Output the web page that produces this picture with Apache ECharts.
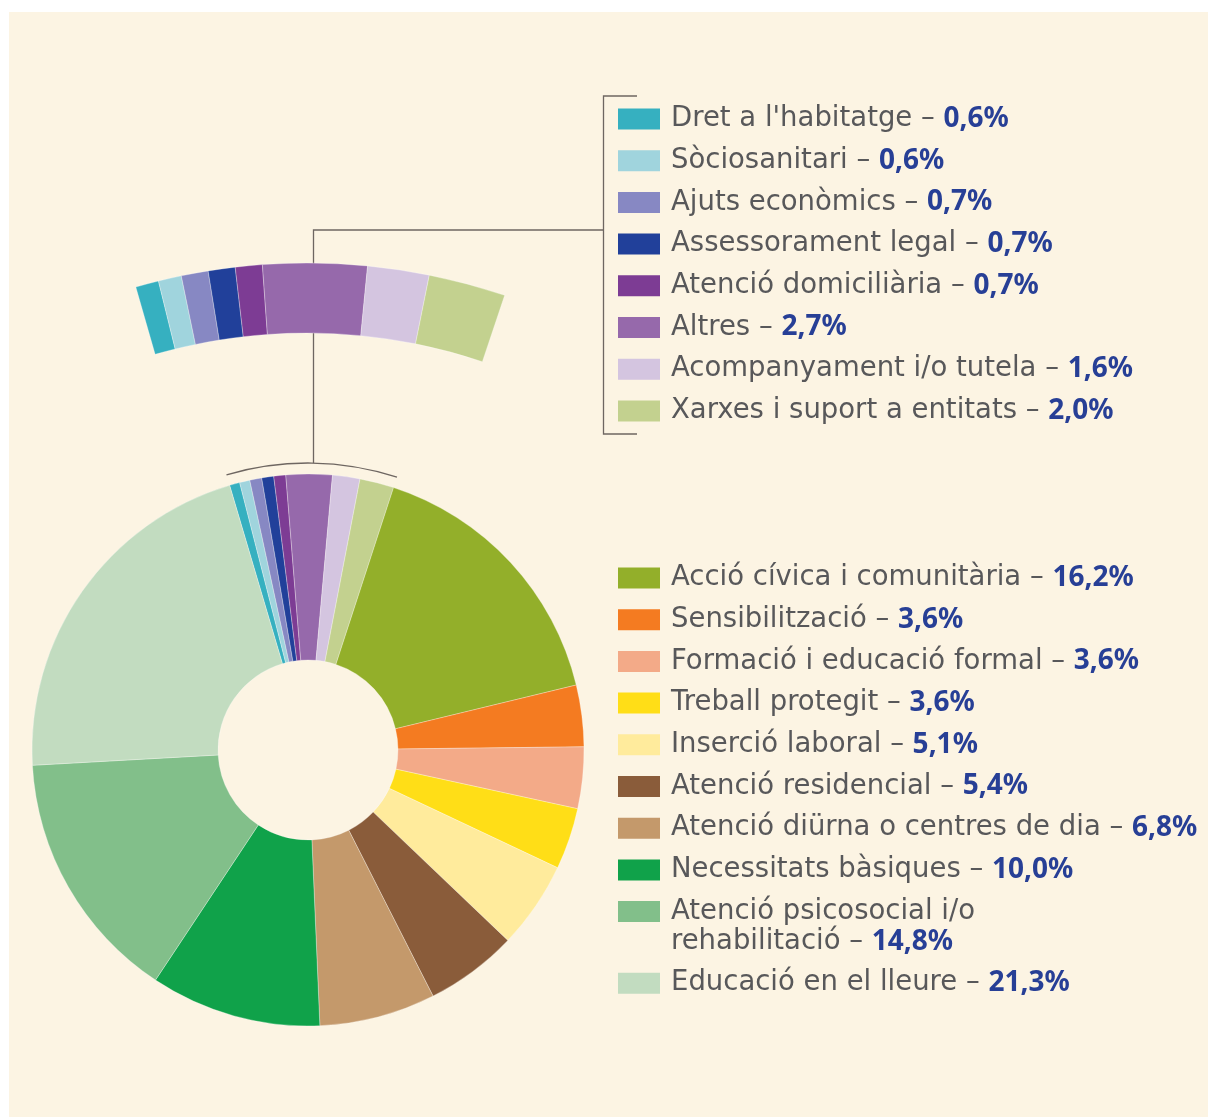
<!DOCTYPE html>
<html>
<head>
<meta charset="utf-8">
<script src="https://cdn.jsdelivr.net/npm/echarts@6/dist/echarts.min.js"></script>
<style>
  html, body { margin: 0; padding: 0; background: #ffffff; }
  #chart { width: 1208px; height: 1117px; }
</style>
</head>
<body>
<div id="chart"></div>
<script>
// ---- DATA (clockwise order in the donut) ----
const categories = [
  "Dret a l'habitatge",
  "Sòciosanitari",
  "Ajuts econòmics",
  "Assessorament legal",
  "Atenció domiciliària",
  "Altres",
  "Acompanyament i/o tutela",
  "Xarxes i suport a entitats",
  "Acció cívica i comunitària",
  "Sensibilització",
  "Formació i educació formal",
  "Treball protegit",
  "Inserció laboral",
  "Atenció residencial",
  "Atenció diürna o centres de dia",
  "Necessitats bàsiques",
  "Atenció psicosocial i/o\nrehabilitació",
  "Educació en el lleure"
];
const values = [0.6, 0.6, 0.7, 0.7, 0.7, 2.7, 1.6, 2.0, 16.2, 3.6, 3.6, 3.6, 5.1, 5.4, 6.8, 10.0, 14.8, 21.3];
const colors = [
  "#36b0c0", "#a0d4dd", "#8788c3", "#21409a", "#7d3c94", "#9669ab", "#d4c5e0", "#c3d18f",
  "#93af2a", "#f47b21", "#f3aa88", "#ffde17", "#ffeb9c", "#8a5c3a", "#c4996b", "#10a24a",
  "#82bf8a", "#c2dcc0"
];
const smallCount = 8; // first items shown magnified in the upper arc

// ---- LAYOUT ----
const CREAM = "#fcf4e3";
const TEXT_GREY = "#58585a";
const VALUE_BLUE = "#273f96";
const LINE = "#6e6661";
const NAME_FONT = "'DejaVu Sans', 'Noto Sans', sans-serif";
const VALUE_FONT = "'Noto Sans', 'Open Sans', sans-serif";

const mainCenter = [308, 750];
const mainRadius = [90, 276];
const mainStart = 106.5;
const zoomCenter = [307, 884];
const zoomRadius = [551, 621];
const zoomStart = 106;

const fmt = v => v.toFixed(1).replace('.', ',') + '%';
const total = values.reduce((a, b) => a + b, 0);
const smallSum = values.slice(0, smallCount).reduce((a, b) => a + b, 0);

const mainData = categories.map((c, i) => ({ name: c, value: values[i], itemStyle: { color: colors[i] } }));
const zoomData = categories.slice(0, smallCount).map((c, i) => ({ name: c, value: values[i], itemStyle: { color: colors[i] } }));
zoomData.push({ name: '', value: total - smallSum, itemStyle: { color: 'rgba(0,0,0,0)', borderWidth: 0 } });

// legend rows
const graphics = [];
graphics.push({ type: 'rect', shape: { x: 9, y: 12, width: 1199, height: 1105 }, style: { fill: CREAM }, silent: true });

function legendRow(i, yCenter) {
  graphics.push({
    type: 'rect',
    shape: { x: 618, y: yCenter - 10.5, width: 42, height: 21 },
    style: { fill: colors[i] }, silent: true
  });
  graphics.push({
    type: 'text',
    x: 671, y: yCenter - 15,
    style: {
      text: '{n|' + categories[i] + ' – }{v|' + fmt(values[i]) + '}',
      verticalAlign: 'top',
      align: 'left',
      rich: {
        n: { fontFamily: NAME_FONT, fontSize: 27.5, fill: TEXT_GREY, lineHeight: 30 },
        v: { fontFamily: VALUE_FONT, fontSize: 28, fontWeight: 'bold', fill: VALUE_BLUE, lineHeight: 30 }
      }
    },
    silent: true
  });
}
const rowStep = 41.7;
let y = 119;
for (let i = 0; i < smallCount; i++) { legendRow(i, y); y += rowStep; }
y = 578;
for (let i = smallCount; i < categories.length; i++) {
  legendRow(i, y);
  const lines = categories[i].split('\n').length;
  y += rowStep + (lines - 1) * 30;
}

// connectors
const deg = d => d * Math.PI / 180;
const arcStart = -mainStart;
const arcEnd = -(mainStart - smallSum / total * 360);
graphics.push({
  type: 'arc',
  shape: { cx: mainCenter[0], cy: mainCenter[1], r: 287, startAngle: deg(arcStart), endAngle: deg(arcEnd), clockwise: true },
  style: { stroke: LINE, lineWidth: 1.3, fill: null }, silent: true
});
graphics.push({ type: 'polyline', shape: { points: [[313.5, 463], [313.5, 230], [603.5, 230]] }, style: { stroke: LINE, lineWidth: 1.3, fill: null }, silent: true });
graphics.push({ type: 'polyline', shape: { points: [[637, 96], [603.5, 96], [603.5, 434], [637, 434]] }, style: { stroke: LINE, lineWidth: 1.3, fill: null }, silent: true });

const chart = echarts.init(document.getElementById('chart'), null, { renderer: 'canvas' });
chart.setOption({
  backgroundColor: '#ffffff',
  animation: false,
  graphic: { z: 0, elements: graphics },
  series: [
    {
      type: 'pie', z: 2,
      center: mainCenter, radius: mainRadius, startAngle: mainStart, clockwise: true,
      label: { show: false }, labelLine: { show: false }, silent: true,
      itemStyle: { borderColor: 'rgba(255,255,255,0.5)', borderWidth: 0.6 },
      emphasis: { disabled: true },
      data: mainData
    },
    {
      type: 'pie', z: 2,
      center: zoomCenter, radius: zoomRadius, startAngle: zoomStart, clockwise: true,
      label: { show: false }, labelLine: { show: false }, silent: true,
      itemStyle: { borderColor: 'rgba(255,255,255,0.5)', borderWidth: 0.6 },
      emphasis: { disabled: true },
      data: zoomData
    }
  ]
});
</script>
</body>
</html>
